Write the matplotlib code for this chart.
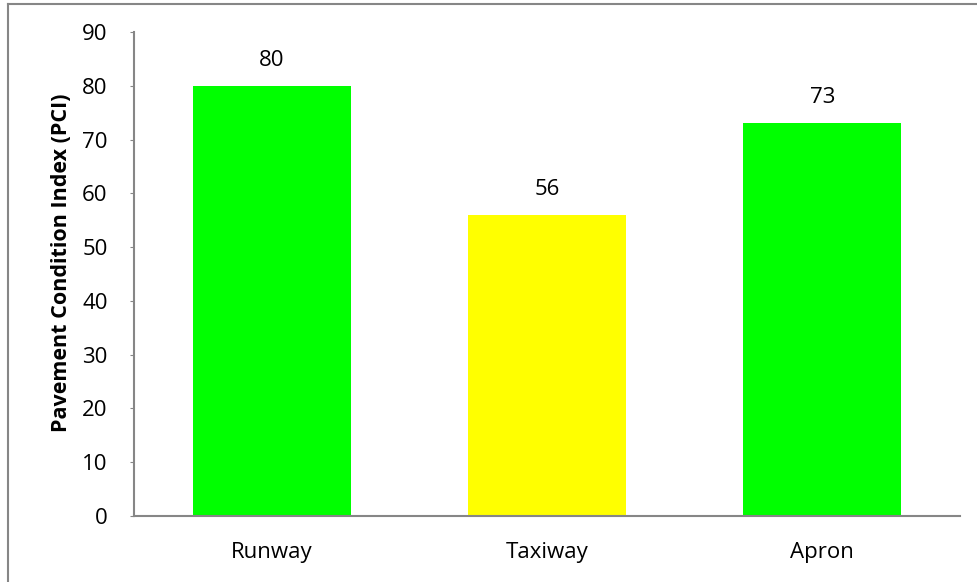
import matplotlib
matplotlib.use("Agg")
import matplotlib.pyplot as plt
from matplotlib.lines import Line2D

categories = ["Runway", "Taxiway", "Apron"]
pci_values = [80, 56, 73]
bar_colors = ["#00FF00", "#FFFF00", "#00FF00"]
y_ticks = [0, 10, 20, 30, 40, 50, 60, 70, 80, 90]

plt.rcParams['font.family'] = ['Open Sans', 'DejaVu Sans']

W, H = 977, 582
FS = 16
fig = plt.figure(figsize=(W / 100, H / 100), dpi=100)
ax = fig.add_axes([134 / W, 1 - 516 / H, (960 - 134) / W, (516 - 32) / H])

x = list(range(len(categories)))
bars = ax.bar(x, pci_values, width=0.575, color=bar_colors, zorder=2)
ax.set_xlim(-0.5, 2.5)
ax.set_ylim(0, 90)
ax.set_yticks(y_ticks)
ax.set_xticks(x)
ax.set_xticklabels(categories)
ax.tick_params(axis='y', labelsize=FS, length=3, color='#868686', pad=16, labelcolor='black')
ax.tick_params(axis='x', labelsize=FS, length=0, pad=19)
for s in ['top', 'right']:
    ax.spines[s].set_visible(False)
for s in ['left', 'bottom']:
    ax.spines[s].set_color('#868686')
    ax.spines[s].set_linewidth(1.5)

for xi, v in zip(x, pci_values):
    ax.annotate(str(v), (xi, v), xytext=(0, 11), textcoords='offset points',
                ha='center', va='bottom', fontsize=FS)

ax.set_ylabel("Pavement Condition Index (PCI)", fontsize=15.5, fontweight='bold')
ax.yaxis.set_label_coords(-0.075, 0.523)

# outer chart-area border (partial, as cropped)
fig.add_artist(Line2D([8 / W, 8 / W], [0, 1 - 4 / H], transform=fig.transFigure, color='#868686', lw=1.5))
fig.add_artist(Line2D([8 / W, 1], [1 - 4 / H, 1 - 4 / H], transform=fig.transFigure, color='#868686', lw=1.5))

fig.savefig("out.png", dpi=100)
